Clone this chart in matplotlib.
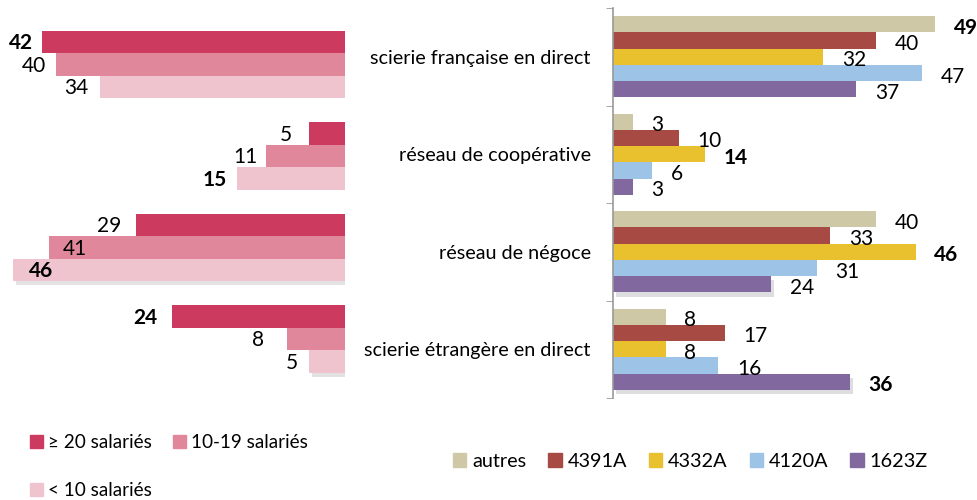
import matplotlib
matplotlib.use("Agg")
import matplotlib.pyplot as plt
import matplotlib.patheffects as pe
from matplotlib.patches import Patch
import numpy as np

plt.rcParams['font.family'] = ['Lato', 'DejaVu Sans']

# left panel: company size
size_labels = ['≥ 20 salariés', '10-19 salariés', '< 10 salariés']
ge20 = [42, 5, 29, 24]
s10_19 = [40, 11, 41, 8]
lt10 = [34, 15, 46, 5]

# right panel: activity codes
categories = ['scierie française en direct', 'réseau de coopérative',
              'réseau de négoce', 'scierie étrangère en direct']
code_labels = ['autres', '4391A', '4332A', '4120A', '1623Z']
autres = [49, 3, 40, 8]
c4391A = [40, 10, 33, 17]
c4332A = [32, 14, 46, 8]
c4120A = [47, 6, 31, 16]
c1623Z = [37, 3, 24, 36]

size_colors = ['#CC3A5F', '#E0879C', '#F0C4CF']
code_colors = ['#CFC8A6', '#A84A44', '#E9C02E', '#9DC3E6', '#8169A0']

shadow = [pe.SimplePatchShadow(offset=(2, -3), alpha=0.15), pe.Normal()]

fig = plt.figure(figsize=(9.78, 5), dpi=100)

# ---- left panel
axL = fig.add_axes([0, 0.2305, 0.3528, 0.732])
left_series = [ge20, s10_19, lt10]
h = 0.246
y = np.arange(len(ge20))
gmax = np.max(left_series, axis=0)
# label offsets (px) of the label from the bar end; positive = inside the bar
off = [[-9, -17, -14, -14], [-10, -8, 14, -23], [-11, -10, 16, -11]]
for i, vals in enumerate(left_series):
    ys = y + (i - 1) * h
    bars = axL.barh(ys, vals, height=h, color=size_colors[i], edgecolor='none')
    for j, (b, v) in enumerate(zip(bars, vals)):
        if i == 2 and j >= 2:
            b.set_path_effects(shadow)
        o = off[i][j]
        axL.annotate(str(v), (v, ys[j]), xytext=(o * 0.72, -1),
                     textcoords='offset points', va='center',
                     ha='left' if o > 0 else 'right', fontsize=15,
                     fontweight='bold' if v == gmax[j] else 'normal')
axL.set_xlim(47.8, 0)
axL.set_ylim(3.5, -0.5)
axL.axis('off')

# ---- right panel
axR = fig.add_axes([0.6268, 0.204, 0.3732, 0.78])
right_series = [autres, c4391A, c4332A, c4120A, c1623Z]
hr = 0.167
rmax = np.max(right_series, axis=0)
for i, vals in enumerate(right_series):
    ys = y + (i - 2) * hr
    bars = axR.barh(ys, vals, height=hr, color=code_colors[i], edgecolor='none')
    for j, (b, v) in enumerate(zip(bars, vals)):
        if i == 4 and j >= 2:
            b.set_path_effects(shadow)
        axR.annotate(str(v), (v, ys[j]), xytext=(13.5, -2.5), textcoords='offset points',
                     va='center', ha='left', fontsize=15,
                     fontweight='bold' if v == rmax[j] else 'normal')
axR.set_xlim(0, 55.5)
axR.set_ylim(3.5, -0.5)
axR.set_yticks(y)
axR.set_yticklabels(categories, fontsize=14.2)
axR.set_yticks(np.arange(-0.5, 4, 1), minor=True)
axR.tick_params(axis='y', which='major', length=0, pad=16)
axR.tick_params(axis='y', which='minor', length=5, color='#999999', direction='out')
axR.set_xticks([])
for s in ['top', 'right', 'bottom']:
    axR.spines[s].set_visible(False)
axR.spines['left'].set_color('#999999')
axR.spines['left'].set_linewidth(1.2)

# ---- legends
hL = [Patch(color=size_colors[k]) for k in (0, 2, 1)]
lL = [size_labels[k] for k in (0, 2, 1)]
fig.legend(hL, lL, loc='upper left', bbox_to_anchor=(30 / 978, 1 - 434 / 500), ncol=2,
           frameon=False, fontsize=13.6, handlelength=0.67, handleheight=0.67,
           handletextpad=0.3, columnspacing=1.1, labelspacing=1.65, borderpad=0, borderaxespad=0)

hR = [Patch(color=c) for c in code_colors]
fig.legend(hR, code_labels, loc='upper left', bbox_to_anchor=(453 / 978, 1 - 453 / 500), ncol=5,
           frameon=False, fontsize=14.3, handlelength=0.67, handleheight=0.67,
           handletextpad=0.3, columnspacing=1.1, borderpad=0, borderaxespad=0)

fig.savefig('out.png', dpi=100)
